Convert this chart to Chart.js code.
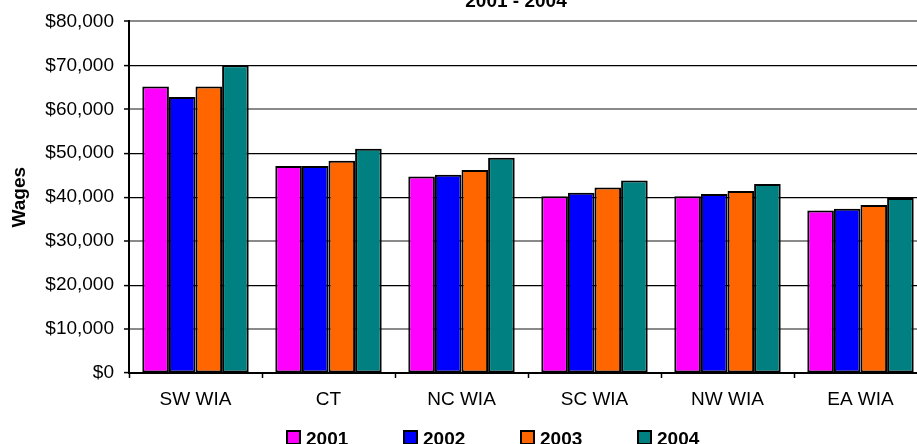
<!DOCTYPE html>
<html>
<head>
<meta charset="utf-8">
<script src="https://cdn.jsdelivr.net/npm/chart.js@4"></script>
<style>
  body { margin: 0; overflow: hidden; background: #fff; }
  canvas { display: block; }
</style>
</head>
<body>
<canvas id="wageChart" width="940" height="444"></canvas>
<script>
// chart data
const regions = ['SW WIA', 'CT', 'NC WIA', 'SC WIA', 'NW WIA', 'EA WIA'];
const years = ['2001', '2002', '2003', '2004'];
const wages2001 = [65200, 47100, 44700, 40200, 40200, 37000];
const wages2002 = [62800, 47100, 45100, 41000, 40700, 37400];
const wages2003 = [65200, 48300, 46200, 42200, 41400, 38200];
const wages2004 = [70000, 51000, 49000, 43800, 43000, 39800];
const yTicks = [0, 10000, 20000, 30000, 40000, 50000, 60000, 70000, 80000];
const chartTitle = '2001 - 2004';

const colors = ['#FF00FF', '#0000FF', '#FF6600', '#008080'];
const series = [wages2001, wages2002, wages2003, wages2004];
const FONT = 'Liberation Sans, Arial, sans-serif';

// gray / black gridlines like the original picture
const grayLines = [80000, 60000, 30000, 10000];

// title drawn by hand (top of it is cut off in the original)
const titlePlugin = {
  id: 'topTitle',
  afterDraw(chart) {
    const c = chart.ctx;
    c.save();
    c.font = 'bold 19px ' + FONT;
    c.fillStyle = '#000';
    c.textAlign = 'center';
    c.textBaseline = 'alphabetic';
    c.fillText(chartTitle, 516, 7);
    c.restore();
  }
};

// legend with wide spacing, drawn from the datasets
const legendPlugin = {
  id: 'wideLegend',
  afterDraw(chart) {
    const c = chart.ctx;
    c.save();
    c.font = 'bold 19px ' + FONT;
    c.textBaseline = 'alphabetic';
    chart.data.datasets.forEach((ds, i) => {
      const x = 287 + i * 117;
      c.fillStyle = ds.backgroundColor;
      c.fillRect(x, 431, 13, 13);
      c.strokeStyle = '#000';
      c.lineWidth = 2;
      c.strokeRect(x, 431, 13, 13);
      c.fillStyle = '#000';
      c.fillText(ds.label, x + 19, 445);
    });
    c.restore();
  }
};

const ctx = document.getElementById('wageChart').getContext('2d');
const wageChart = new Chart(ctx, {
  type: 'bar',
  data: {
    labels: regions,
    datasets: years.map((y, i) => ({
      label: y,
      data: series[i],
      backgroundColor: colors[i],
      borderColor: '#000',
      borderWidth: 2,
      borderSkipped: false,
      categoryPercentage: 0.8,
      barPercentage: 1.0
    }))
  },
  options: {
    responsive: false,
    animation: false,
    layout: { padding: { top: 18, right: 13, bottom: 31, left: 0 } },
    plugins: {
      legend: { display: false },
      title: { display: false },
      tooltip: { enabled: false }
    },
    scales: {
      x: {
        afterFit(scale) { scale.height = 40; },
        grid: {
          drawOnChartArea: false,
          drawTicks: true,
          tickLength: 5,
          tickColor: '#000',
          tickWidth: 1.5
        },
        border: { color: '#000', width: 2 },
        ticks: {
          color: '#000',
          padding: 10,
          font: { family: FONT, size: 19 }
        }
      },
      y: {
        min: 0,
        max: 80000,
        afterFit(scale) { scale.width = 129; },
        afterBuildTicks(scale) { scale.ticks = yTicks.map(v => ({ value: v })); },
        grid: {
          color: (c) => grayLines.includes(c.tick && c.tick.value) ? '#8a8a8a' : '#000',
          lineWidth: (c) => grayLines.includes(c.tick && c.tick.value) ? 2 : 1.2,
          tickLength: 5,
          tickColor: '#000',
          tickWidth: 1.5
        },
        border: { color: '#000', width: 2 },
        title: {
          display: true,
          text: 'Wages',
          color: '#000',
          padding: { top: 8, bottom: 0 },
          font: { family: FONT, size: 19, weight: 'bold' }
        },
        ticks: {
          color: '#000',
          padding: 10,
          font: { family: FONT, size: 19 },
          callback: (v) => '$' + Number(v).toLocaleString('en-US')
        }
      }
    }
  },
  plugins: [titlePlugin, legendPlugin]
});
</script>
</body>
</html>
